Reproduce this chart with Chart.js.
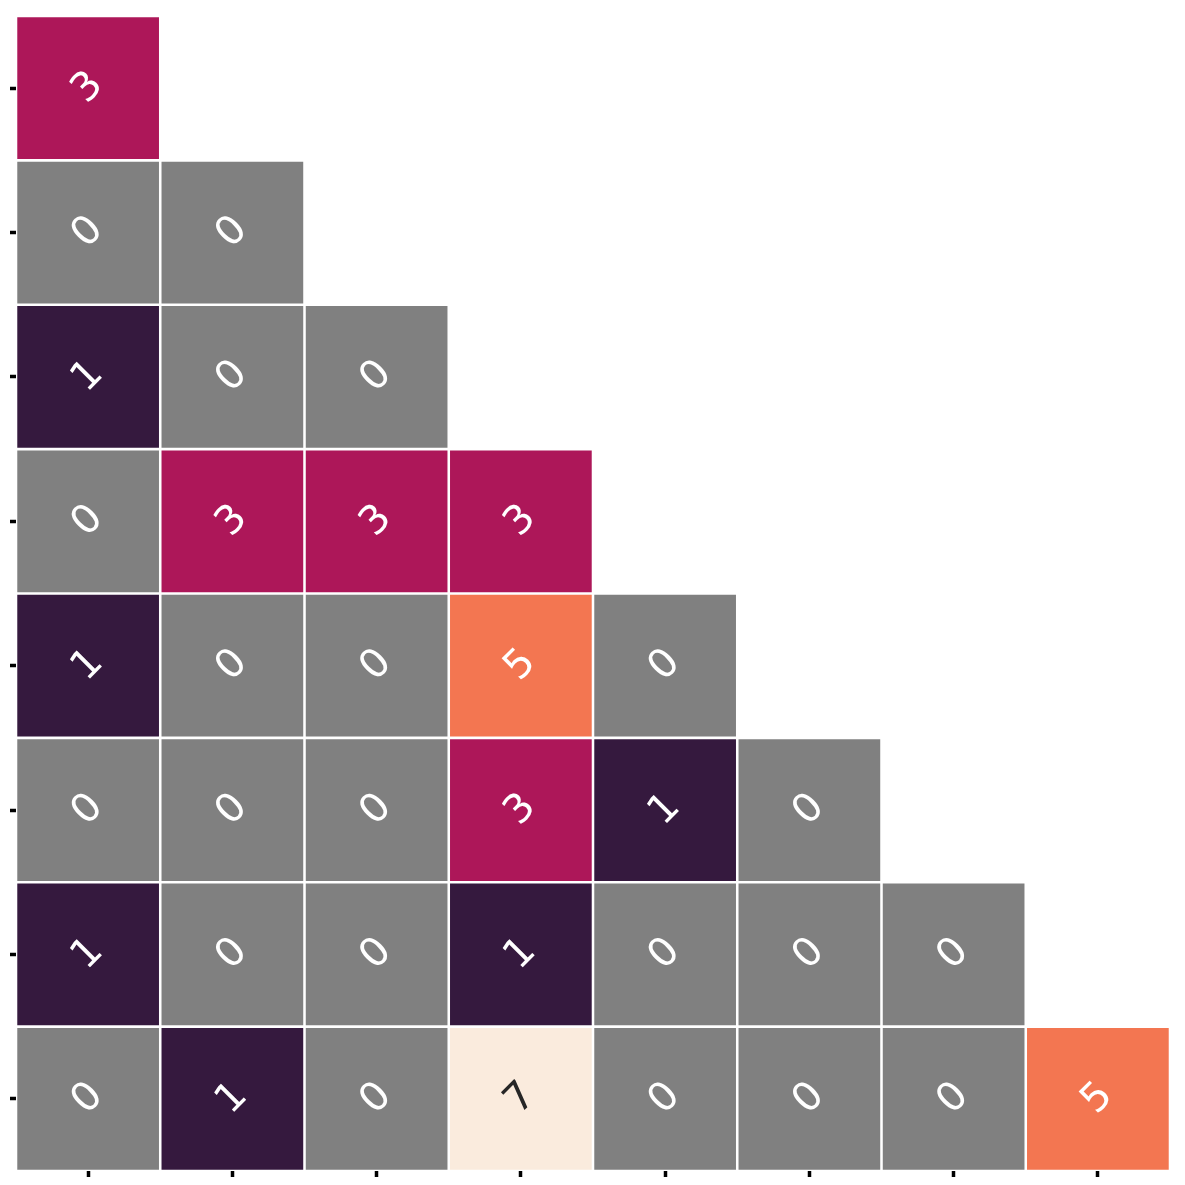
<!DOCTYPE html>
<html>
<head>
<meta charset="utf-8">
<script src="https://cdn.jsdelivr.net/npm/chart.js@4/dist/chart.umd.min.js"></script>
<style>
  html, body { margin: 0; padding: 0; background: #fff; }
  #wrap { width: 1185px; height: 1185px; }
</style>
</head>
<body>
<div id="wrap"><canvas id="heat"></canvas></div>
<script>
"use strict";

// Column categories (x) and row categories (y), tick labels are hidden
var colLabels = ['0', '1', '2', '3', '4', '5', '6', '7'];
var rowLabels = ['0', '1', '2', '3', '4', '5', '6', '7'];

// Lower-triangle cell values, one array per row (top to bottom)
var row0 = [3];
var row1 = [0, 0];
var row2 = [1, 0, 0];
var row3 = [0, 3, 3, 3];
var row4 = [1, 0, 0, 5, 0];
var row5 = [0, 0, 0, 3, 1, 0];
var row6 = [1, 0, 0, 1, 0, 0, 0];
var row7 = [0, 1, 0, 7, 0, 0, 0, 5];
var rows = [row0, row1, row2, row3, row4, row5, row6, row7];

// Colour per value (rocket colormap, zero shown in grey)
var palette = { 0: '#808080', 1: '#35193E', 3: '#AD1759', 5: '#F37651', 7: '#FAEBDD' };

var cellText = {
    id: 'cellText',
    afterDatasetsDraw: function (chart) {
        var ctx = chart.ctx;
        ctx.save();
        ctx.font = '40px "DejaVu Sans"';
        ctx.textAlign = 'center';
        ctx.textBaseline = 'middle';
        chart.data.datasets.forEach(function (ds, i) {
            var meta = chart.getDatasetMeta(i);
            meta.data.forEach(function (bar, j) {
                var v = rows[i][j];
                var cx = bar.x;
                var cy = (bar.y + bar.base) / 2;
                ctx.save();
                ctx.translate(cx, cy);
                ctx.rotate(-Math.PI / 4);
                ctx.fillStyle = v >= 6 ? '#262626' : '#ffffff';
                ctx.fillText(String(v), 0, 0);
                ctx.restore();
            });
        });
        ctx.restore();
    }
};

var datasets = rows.map(function (vals, i) {
    return {
        label: 'row ' + rowLabels[i],
        data: vals.map(function () { return [i, i + 1]; }),
        backgroundColor: vals.map(function (v) { return palette[v]; }),
        borderColor: '#ffffff',
        borderWidth: 1.6,
        borderSkipped: false,
        grouped: false,
        barPercentage: 1,
        categoryPercentage: 1
    };
});

new Chart(document.getElementById('heat').getContext('2d'), {
    type: 'bar',
    data: { labels: colLabels, datasets: datasets },
    options: {
        responsive: true,
        maintainAspectRatio: false,
        animation: false,
        layout: { padding: { left: 10, right: 15, top: 16, bottom: 8 } },
        scales: {
            x: {
                grid: { offset: false, drawOnChartArea: false, tickLength: 6, tickWidth: 3.5, tickColor: '#000' },
                border: { display: false },
                ticks: { display: false }
            },
            y: {
                min: 0,
                max: 8,
                reverse: true,
                afterBuildTicks: function (scale) {
                    scale.ticks = rowLabels.map(function (_, i) { return { value: i + 0.5 }; });
                },
                grid: { drawOnChartArea: false, tickLength: 6, tickWidth: 3.5, tickColor: '#000' },
                border: { display: false },
                ticks: { display: false }
            }
        },
        plugins: {
            legend: { display: false },
            tooltip: { enabled: false }
        }
    },
    plugins: [cellText]
});
</script>
</body>
</html>
